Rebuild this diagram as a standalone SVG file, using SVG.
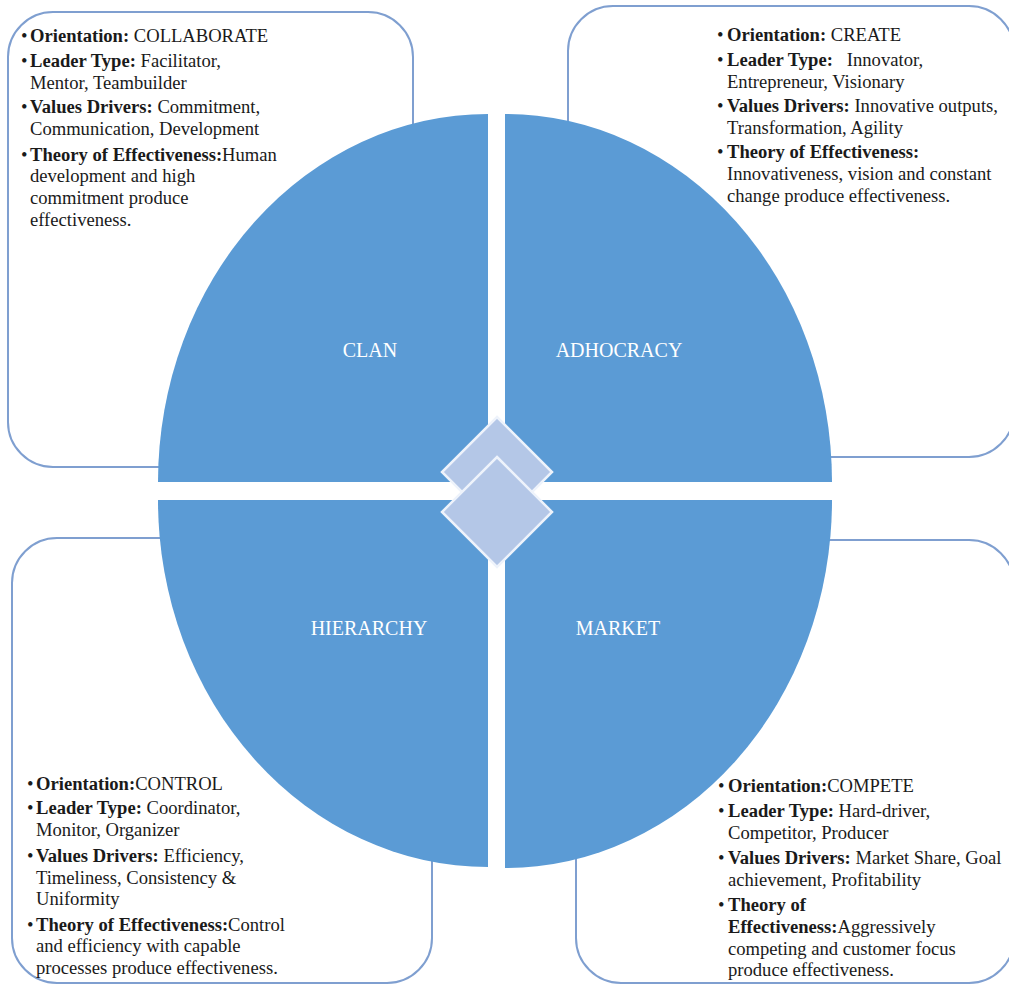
<svg xmlns="http://www.w3.org/2000/svg" width="1009" height="986" viewBox="0 0 1009 986">
<style>
.box{fill:#fff;stroke:#7f9fd0;stroke-width:2}
.q{fill:#5b9bd5}
.dia{fill:#b4c7e7;stroke:#eef3fb;stroke-width:2.5}
.t{font-family:"Liberation Serif","Times New Roman",serif;font-size:18.6px;fill:#1a1a1a}
.b{font-weight:bold}
.lbl{font-family:"Liberation Serif","Times New Roman",serif;font-size:20px;fill:#fff;text-anchor:middle}
</style>
<rect width="1009" height="986" fill="#fff"/>
<g id="box-clan">
<rect class="box" x="8" y="12" width="405" height="455" rx="45"/>
<text class="t" x="21" y="42">•</text><text class="t" x="30" y="42"><tspan class="b">Orientation:</tspan> COLLABORATE</text>
<text class="t" x="21" y="67">•</text><text class="t" x="30" y="67"><tspan class="b">Leader Type:</tspan> Facilitator,</text>
<text class="t" x="30" y="89">Mentor, Teambuilder</text>
<text class="t" x="21" y="113">•</text><text class="t" x="30" y="113"><tspan class="b">Values Drivers:</tspan> Commitment,</text>
<text class="t" x="30" y="135">Communication, Development</text>
<text class="t" x="21" y="161">•</text><text class="t" x="30" y="161"><tspan class="b">Theory of Effectiveness:</tspan>Human</text>
<text class="t" x="30" y="182">development and high</text>
<text class="t" x="30" y="204">commitment produce</text>
<text class="t" x="30" y="226">effectiveness.</text>
</g>
<g id="box-adhocracy">
<rect class="box" x="568" y="6" width="446" height="451" rx="45"/>
<text class="t" x="717" y="41">•</text><text class="t" x="727" y="41"><tspan class="b">Orientation:</tspan> CREATE</text>
<text class="t" x="717" y="66">•</text><text class="t" x="727" y="66" xml:space="preserve"><tspan class="b">Leader Type:</tspan>   Innovator,</text>
<text class="t" x="727" y="88">Entrepreneur, Visionary</text>
<text class="t" x="717" y="112">•</text><text class="t" x="727" y="112"><tspan class="b">Values Drivers:</tspan> Innovative outputs,</text>
<text class="t" x="727" y="134">Transformation, Agility</text>
<text class="t" x="717" y="158">•</text><text class="t" x="727" y="158"><tspan class="b">Theory of Effectiveness:</tspan></text>
<text class="t" x="727" y="180">Innovativeness, vision and constant</text>
<text class="t" x="727" y="202">change produce effectiveness.</text>
</g>
<g id="box-hierarchy">
<rect class="box" x="12" y="538" width="420" height="445" rx="45"/>
<text class="t" x="27" y="790">•</text><text class="t" x="36" y="790"><tspan class="b">Orientation:</tspan>CONTROL</text>
<text class="t" x="27" y="814">•</text><text class="t" x="36" y="814"><tspan class="b">Leader Type:</tspan> Coordinator,</text>
<text class="t" x="36" y="836">Monitor, Organizer</text>
<text class="t" x="27" y="862">•</text><text class="t" x="36" y="862"><tspan class="b">Values Drivers:</tspan> Efficiency,</text>
<text class="t" x="36" y="884">Timeliness, Consistency &amp;</text>
<text class="t" x="36" y="905">Uniformity</text>
<text class="t" x="27" y="931">•</text><text class="t" x="36" y="931"><tspan class="b">Theory of Effectiveness:</tspan>Control</text>
<text class="t" x="36" y="952">and efficiency with capable</text>
<text class="t" x="36" y="974">processes produce effectiveness.</text>
</g>
<g id="box-market">
<rect class="box" x="576" y="540" width="438" height="443" rx="45"/>
<text class="t" x="718" y="792">•</text><text class="t" x="728" y="792"><tspan class="b">Orientation:</tspan>COMPETE</text>
<text class="t" x="718" y="817">•</text><text class="t" x="728" y="817"><tspan class="b">Leader Type:</tspan> Hard-driver,</text>
<text class="t" x="728" y="839">Competitor, Producer</text>
<text class="t" x="718" y="864">•</text><text class="t" x="728" y="864"><tspan class="b">Values Drivers:</tspan> Market Share, Goal</text>
<text class="t" x="728" y="886">achievement, Profitability</text>
<text class="t" x="718" y="911">•</text><text class="t" x="728" y="911"><tspan class="b">Theory of</tspan></text>
<text class="t" x="728" y="933"><tspan class="b">Effectiveness:</tspan>Aggressively</text>
<text class="t" x="728" y="955">competing and customer focus</text>
<text class="t" x="728" y="976">produce effectiveness.</text>
</g>
<g id="quad-clan">
<path class="q" d="M488,482 L158,482 A330,368 0 0 1 488,114 Z"/>
<text class="lbl" x="370" y="357">CLAN</text>
</g>
<g id="quad-adhocracy">
<path class="q" d="M505,482 L505,114 A327,368 0 0 1 832,482 Z"/>
<text class="lbl" x="619" y="357">ADHOCRACY</text>
</g>
<g id="quad-hierarchy">
<path class="q" d="M488,500 L488,867 A330,367 0 0 1 158,500 Z"/>
<text class="lbl" x="369" y="635">HIERARCHY</text>
</g>
<g id="quad-market">
<path class="q" d="M505,500 L832,500 A327,368 0 0 1 505,868 Z"/>
<text class="lbl" x="618" y="635">MARKET</text>
</g>
<g id="diamonds">
<path class="dia" d="M497,417 L552,472 L497,527 L442,472 Z"/>
<path class="dia" d="M497,457 L552,512 L497,567 L442,512 Z"/>
</g>
</svg>
